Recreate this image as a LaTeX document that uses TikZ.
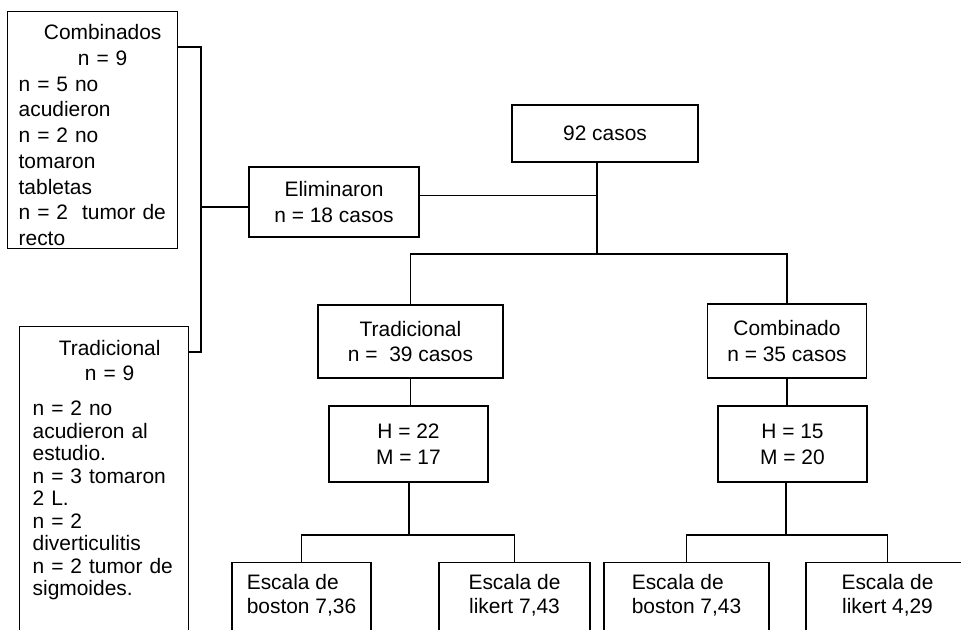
\documentclass[tikz,border=0pt]{standalone}
\usepackage{fontspec}
\setmainfont{Liberation Sans}
\usetikzlibrary{calc}

\newcommand{\ctrline}[2]{\makebox[0pt][l]{\makebox[#1][c]{#2}}}

\tikzset{
  caja/.style={draw, line width=1pt, inner sep=0pt},
  cajawh/.style 2 args={caja, align=center, minimum width=#1*0.75pt, minimum height=#2*0.75pt},
  cajatd/.style 2 args={caja, text height=#1*0.75pt, text depth=#2*0.75pt},
  escala/.style={cajatd={51}{40}, anchor=north, font=\fontsize{15.7}{18}\selectfont},
  linea/.style={line width=1pt},
}

\begin{document}
\begin{tikzpicture}[x=0.75pt,y=0.75pt,yscale=-1,xscale=1,
  font=\fontsize{15.7}{19.4}\selectfont]

\useasboundingbox (0,0) rectangle (961,629);
\clip (0,0) rectangle (961,629);

%%%%%%%%%%%%%%%%%%%%%%%%%%%%%%%%%%%%%%%%%%%%%%%%%%%%%%%%%%%%%%%%%%%%%%%%

\node [cajatd={28}{209}, anchor=north west, text width=148*0.75pt, inner xsep=11*0.75pt,
  align=left, font=\fontsize{15.7}{19.3}\selectfont] (comb) at (7,11)
  {\ctrline{126pt}{Combinados}\\ \ctrline{126pt}{n = 9}\\ n = 5 no\\ acudieron\\ n = 2 no\\
   tomaron\\ tabletas\\ n = 2 \ tumor de\\ recto};

\node [cajatd={29}{305}, anchor=north west, text width=143*0.75pt, inner xsep=13*0.75pt,
  align=left, font=\fontsize{15.7}{16.9}\selectfont] (tradl) at (19,326)
  {\ctrline{115.5pt}{Tradicional}\\[1.85pt] \ctrline{115.5pt}{n = 9}\\[9.35pt] n = 2 no\\
   acudieron al\\ estudio.\\ n = 3 tomaron\\ 2 L.\\ n = 2\\ diverticulitis\\
   n = 2 tumor de\\ sigmoides.};

%%%%%%%%%%%%%%%%%%%%%%%%%%%%%%%%%%%%%%%%%%%%%%%%%%%%%%%%%%%%%%%%%%%%%%%%

\node [cajawh={186}{57}] (casos) at (605,133.5) {92 casos};
\node [cajawh={170}{70}] (elim) at (334,202) {Eliminaron\\ n = 18 casos};
\node [cajawh={185}{73}] (tradm) at (410.5,341.5) {Tradicional\\ n = \ 39 casos};
\node [cajawh={159}{74}] (combm) at (787,341) {Combinado\\ n = 35 casos};
\node [cajawh={159}{76}] (hm1) at (408.5,444) {H = 22\\ M = 17};
\node [cajawh={149}{76}] (hm2) at (792.5,444) {H = 15\\ M = 20};

%%%%%%%%%%%%%%%%%%%%%%%%%%%%%%%%%%%%%%%%%%%%%%%%%%%%%%%%%%%%%%%%%%%%%%%%

\node [escala, minimum width=139*0.75pt, align=left] (b1) at (301.5,562) {Escala de\\ boston 7,36};
\node [escala, minimum width=151*0.75pt, align=center] (l1) at (514.5,562) {Escala de\\ likert 7,43};
\node [escala, minimum width=165*0.75pt, align=left] (b2) at (686.5,562) {Escala de\\ boston 7,43};
\node [escala, minimum width=163*0.75pt, align=center] (l2) at (887.5,562) {Escala de\\ likert 4,29};

%%%%%%%%%%%%%%%%%%%%%%%%%%%%%%%%%%%%%%%%%%%%%%%%%%%%%%%%%%%%%%%%%%%%%%%%

\coordinate (jl) at (201,207);
\coordinate (jt) at (597,254);
\coordinate (jb1) at (409,535);
\coordinate (jb2) at (786,535);
\coordinate (ej) at ($(elim.north east)+(0,29)$);

\draw [linea] ($(comb.north east)+(0,36)$) -| (jl) |- ($(tradl.north east)+(0,26)$);
\draw [linea] (jl) -- (jl -| elim.west);
\draw [linea] (ej) -- (ej -| jt);
\draw [linea] (jt |- casos.south) -- (jt);
\draw [linea] (tradm.north) |- (jt) -| (combm.north);

\draw [linea] (tradm.south) -- (tradm.south |- hm1.north);
\draw [linea] (combm.south) -- (combm.south |- hm2.north);

\draw [linea] (hm1.south -| jb1) -- (jb1);
\draw [linea] (b1.north) |- (jb1) -| (l1.north);
\draw [linea] (hm2.south -| jb2) -- (jb2);
\draw [linea] (b2.north) |- (jb2) -| (l2.north);

%%%%%%%%%%%%%%%%%%%%%%%%%%%%%%%%%%%%%%%%%%%%%%%%%%%%%%%%%%%%%%%%%%%%%%%%

\end{tikzpicture}
\end{document}
